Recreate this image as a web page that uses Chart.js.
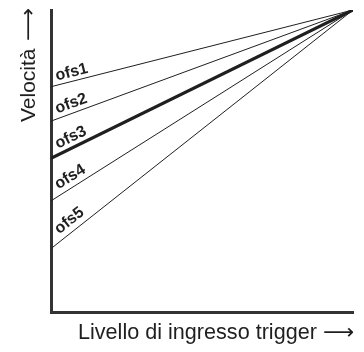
<!DOCTYPE html>
<html>
<head>
<meta charset="utf-8">
<script src="https://cdn.jsdelivr.net/npm/chart.js@4"></script>
<style>
  html, body { margin: 0; padding: 0; background: #fff; }
  #wrap { width: 364px; height: 352px; }
</style>
</head>
<body>
<div id="wrap"><canvas id="chart"></canvas></div>
<script>
// offset curves: each one starts at its offset and meets the others at full input
const seriesNames = ['ofs1', 'ofs2', 'ofs3', 'ofs4', 'ofs5'];
const startValues = [74.6, 63.2, 50.9, 36.8, 21.0];
const endValue = 100;
const inputRange = [0, 100];
const xTitle = 'Livello di ingresso trigger';
const yTitle = 'Velocit\u00E0';
const arrow = '\u27F6';

const ink = '#1f1f1f';
const axisInk = '#333333';
const family = '"Liberation Sans", Arial, Helvetica, sans-serif';

// px the name floats above its line
const labelGap = [4.5, 5, 5.5, 5.5, 6];
const labelClear = 4.5; // from the axis to the first letter
const oRadius = 4.5;    // half width of the bold "o"

const lineLabels = {
  id: 'lineLabels',
  afterDatasetsDraw(chart) {
    const ctx = chart.ctx;
    const left = chart.chartArea.left;
    ctx.save();
    ctx.font = `bold 16px ${family}`;
    ctx.fillStyle = ink;
    ctx.textAlign = 'left';
    ctx.textBaseline = 'alphabetic';
    chart.data.datasets.forEach((ds, i) => {
      const pts = chart.getDatasetMeta(i).data;
      const a = Math.atan2(pts[1].y - pts[0].y, pts[1].x - pts[0].x);
      const g = labelGap[i];
      // keep the rotated "o" just clear of the axis
      const bx = left + labelClear + oRadius * (1 - Math.cos(a) - Math.sin(a));
      const px = bx - g * Math.sin(a);
      const py = pts[0].y + (px - pts[0].x) * Math.tan(a);
      const by = py - g * Math.cos(a);
      ctx.save();
      ctx.translate(bx, by);
      ctx.rotate(a);
      ctx.fillText(ds.label, 0, 0);
      ctx.restore();
    });
    ctx.restore();
  },
};

// draws "text  ⟶" starting at (0,0) in the current frame, arrow stretched to len px
function titleWithArrow(ctx, text, arrowAt, len) {
  ctx.fillText(text, 0, 0);
  ctx.save();
  ctx.font = `21px "DejaVu Sans", ${family}`;
  const m = ctx.measureText(arrow);
  const inkW = m.actualBoundingBoxLeft + m.actualBoundingBoxRight;
  ctx.translate(arrowAt, 0);
  ctx.scale(len / inkW, 1);
  ctx.fillText(arrow, m.actualBoundingBoxLeft, 0);
  ctx.restore();
}

const axisTitles = {
  id: 'axisTitles',
  afterDraw(chart) {
    const ctx = chart.ctx;
    const { left, bottom, top, right } = chart.chartArea;
    ctx.save();
    ctx.fillStyle = ink;
    ctx.textAlign = 'left';
    ctx.textBaseline = 'alphabetic';

    // horizontal title, ends under the right edge of the plot
    ctx.save();
    ctx.font = `21.6px ${family}`;
    ctx.translate(right - 275, bottom + 27);
    titleWithArrow(ctx, xTitle, 246, 30);
    ctx.restore();

    // vertical title, reads bottom to top, arrow ends at the top of the axis
    ctx.save();
    ctx.font = `21px ${family}`;
    ctx.translate(left - 16, top + 112);
    ctx.rotate(-Math.PI / 2);
    titleWithArrow(ctx, yTitle, 82, 32);
    ctx.restore();

    ctx.restore();
  },
};

const datasets = seriesNames.map((name, i) => ({
  label: name,
  data: [
    { x: inputRange[0], y: startValues[i] },
    { x: inputRange[1], y: endValue },
  ],
  borderColor: ink,
  borderWidth: name === 'ofs3' ? 3.2 : 1,
  pointRadius: 0,
  fill: false,
}));

new Chart(document.getElementById('chart'), {
  type: 'line',
  data: { datasets },
  options: {
    responsive: true,
    maintainAspectRatio: false,
    animation: false,
    events: [],
    layout: { padding: { top: 10, right: 11, left: 0, bottom: 0 } },
    plugins: { legend: { display: false }, tooltip: { enabled: false } },
    scales: {
      x: {
        type: 'linear',
        min: inputRange[0],
        max: inputRange[1],
        grid: { display: false },
        ticks: { display: false },
        border: { display: true, color: axisInk, width: 3 },
        afterFit(s) { s.height = 40; },
      },
      y: {
        min: 0,
        max: endValue,
        grid: { display: false },
        ticks: { display: false },
        border: { display: true, color: axisInk, width: 3 },
        afterFit(s) { s.width = 51; },
      },
    },
  },
  plugins: [lineLabels, axisTitles],
});
</script>
</body>
</html>
